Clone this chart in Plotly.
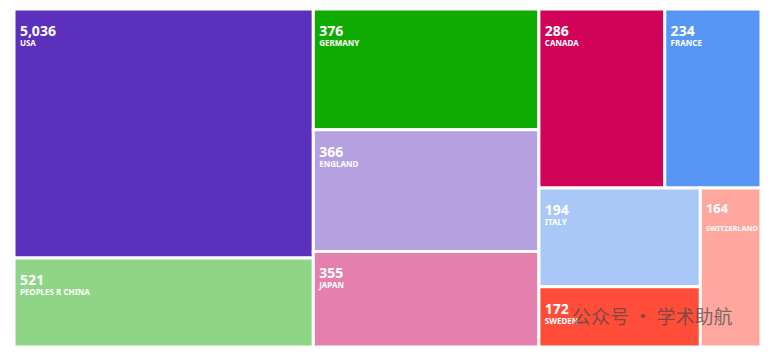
import plotly.graph_objects as go

# Countries, publication counts (shown as labels) and tile areas
countries = ["USA", "PEOPLES R CHINA", "GERMANY", "ENGLAND", "JAPAN",
             "CANADA", "FRANCE", "ITALY", "SWEDEN", "SWITZERLAND"]
counts = [5036, 521, 376, 366, 355, 286, 234, 194, 172, 164]
tile_area = [73879, 26417, 27000, 27225, 21375, 22339, 17088, 15778, 9660, 9559]
colors = ["#5b30bd", "#8ed685", "#0fab02", "#b6a1e0", "#e57fad",
          "#d10358", "#5896f5", "#a9c8f7", "#ff4d3a", "#ffa79f"]

pad = "<span style='font-size:11px'>\u00a0</span>"
strut = "<span style='font-size:13px'>\u00a0</span><br>"

# the narrow Switzerland tile has its name pushed one line lower
seps = ["<br>" + ("\u00a0<br>" if c == "SWITZERLAND" else "") for c in countries]
custom = [[n, s] for n, s in zip(counts, seps)]

fig = go.Figure(go.Treemap(
    labels=countries,
    parents=[""] * len(countries),
    values=tile_area,
    customdata=custom,
    sort=False,
    tiling=dict(packing="squarify", squarifyratio=1.618, pad=0),
    marker=dict(colors=colors, line=dict(color="white", width=3),
                pad=dict(t=0, l=0, r=0, b=0)),
    pathbar=dict(visible=False),
    texttemplate=strut + pad + "<span style='font-size:14px'><b>%{customdata[0]:,}</b></span>"
                 + "%{customdata[1]}" + pad + "<span style='font-size:8px'><b>%{label}</b></span>",
    textposition="top left",
    textfont=dict(family="Noto Sans", size=7.7, color="white"),
    hoverinfo="skip",
))

# page is offset by the browser's 8px body margin
OFF = 8
W, H = 773 - OFF, 359 - OFF
L, R, T, B = 5.5, 11.5, 0.5, 11.5
fig.add_annotation(
    x=(653 - OFF - L) / (W - L - R), y=1 - (316 - OFF - T) / (H - T - B),
    xref="paper", yref="paper", xanchor="center", yanchor="middle",
    showarrow=False,
    text="公众号 · 学术助航",
    font=dict(family="Noto Sans CJK SC", size=19, color="rgba(70,70,70,0.7)"),
)

fig.update_layout(
    width=W, height=H,
    margin=dict(l=L, r=R, t=T, b=B),
    paper_bgcolor="white",
)

fig.write_html("out.html")
